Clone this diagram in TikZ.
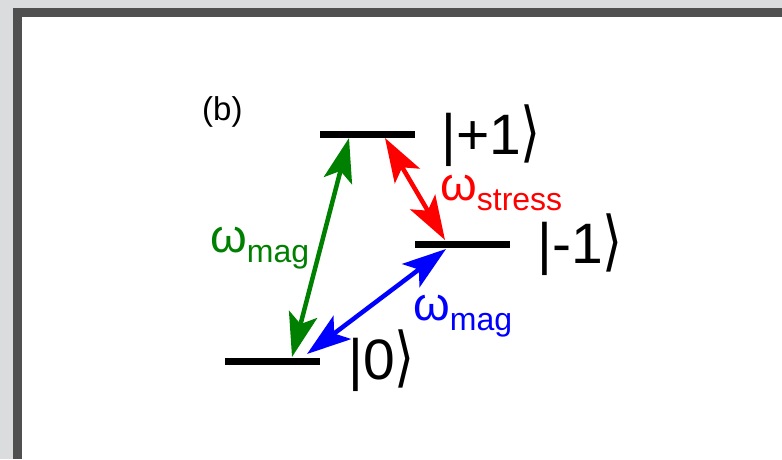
\documentclass[tikz,border=0pt]{standalone}
\usepackage{fontspec}
\setmainfont{Liberation Sans}
\newfontfamily\brkfont{DejaVu Sans}
\usetikzlibrary{arrows.meta}

\definecolor{outergray}{RGB}{218,220,222}
\definecolor{framegray}{RGB}{80,80,80}
\definecolor{magg}{RGB}{0,128,0}

% omega with a lowered subscript
\newcommand{\omsub}[1]{{\fontsize{47}{49}\selectfont ω\raisebox{-10pt}{\fontsize{32}{34}\selectfont #1}}}
\newcommand{\ketlab}[1]{{\fontsize{57}{59}\selectfont |#1{\brkfont\scalebox{0.9}[1.15]{⟩}}}}

\begin{document}
\begin{tikzpicture}[x=1pt,y=-1pt,
		level/.style={line width=7pt,black},
		trans/.style={line width=4.5pt,{Stealth[length=44pt,width=29pt,inset=10pt]}-{Stealth[length=44pt,width=29pt,inset=10pt]}},
		lab/.style={inner sep=0pt,anchor=base west}]
			\useasboundingbox (0,0) rectangle (782,459);
			\fill[outergray] (0,0) rectangle (782,459);
			\fill[framegray] (13,8) rectangle (782,459);
			\fill[white] (22,17) rectangle (782,459);
			% levels
			\draw[level] (320,134) -- (415,134);
			\draw[level] (415,244) -- (510,244);
			\draw[level] (225,361) -- (320,361);
			% arrow ends
			\coordinate (gtop) at (349,138);
			\coordinate (gbot) at (292,357);
			\coordinate (rtop) at (385,138);
			\coordinate (rbot) at (445,240);
			\coordinate (btop) at (446,249);
			\coordinate (bbot) at (307,354);
			\draw[trans,magg] (gbot) -- (gtop);
			\draw[trans,red] (rtop) -- (rbot);
			\draw[trans,blue] (bbot) -- (btop);
			% labels
			\node[lab] (panel) at (202,120) {\fontsize{33}{35}\selectfont (b)};
			\node[lab] (kp) at (441,154) {\ketlab{+1}};
			\node[lab] (km) at (537,263) {\ketlab{-1}};
			\node[lab] (k0) at (348,379) {\ketlab{0}};
			\node[lab,magg] (wg) at (210,252) {\omsub{mag}};
			\node[lab,red] (wr) at (440,200) {\omsub{stress}};
			\node[lab,blue] (wb) at (413,320) {\omsub{mag}};
		\end{tikzpicture}
\end{document}
